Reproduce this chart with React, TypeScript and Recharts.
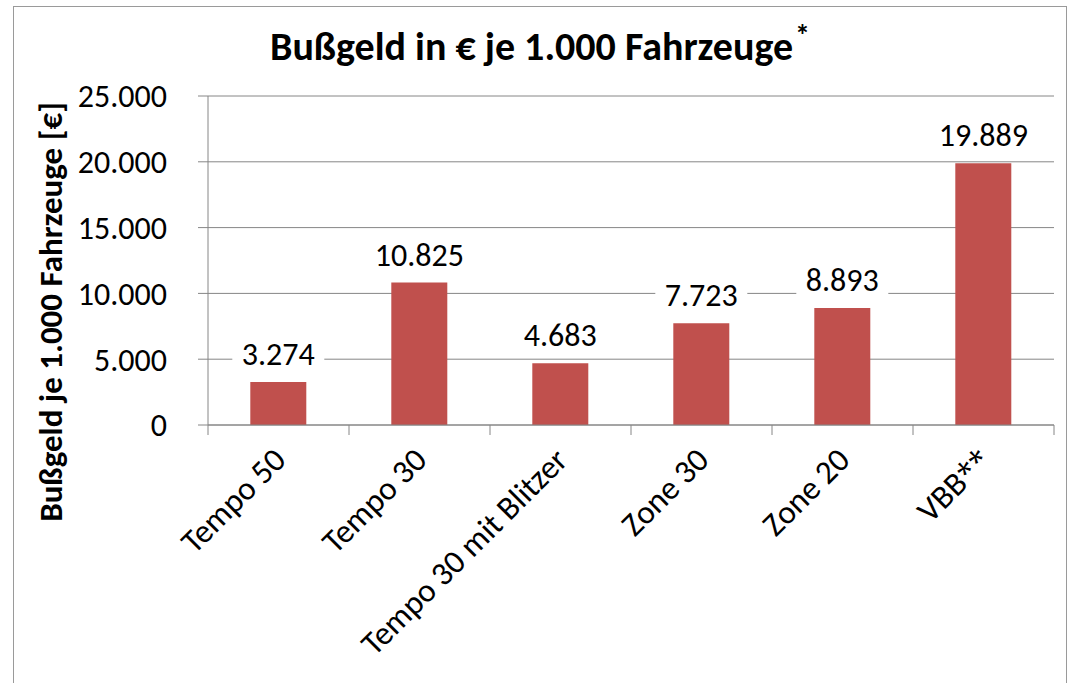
import { BarChart, Bar, XAxis, YAxis, CartesianGrid, LabelList } from "recharts";

const categories = ["Tempo 50", "Tempo 30", "Tempo 30 mit Blitzer", "Zone 30", "Zone 20", "VBB**"];
const values = [3274, 10825, 4683, 7723, 8893, 19889];
const yTicks = [0, 5000, 10000, 15000, 20000, 25000];

const data = categories.map((name, i) => ({ name, value: values[i] }));

const FONT = "Carlito, 'Open Sans', sans-serif";
const GRID = "#868686";

const fmt = (n: number) => String(n).replace(/\B(?=(\d{3})+(?!\d))/g, ".");

function CategoryTick(props: any) {
  const { x, y, payload, index } = props;
  const half = payload.offset || 0;
  const isLast = index === categories.length - 1;
  const ax = x + 9;
  const ay = y + 37;
  const label = String(payload.value);
  const stars = label.match(/\*+$/);
  const main = stars ? label.slice(0, -stars[0].length) : label;
  return (
    <g>
      <line x1={x - half} y1={y} x2={x - half} y2={y + 10} stroke={GRID} />
      {isLast && <line x1={x + half} y1={y} x2={x + half} y2={y + 10} stroke={GRID} />}
      <text
        x={ax}
        y={ay}
        textAnchor="end"
        transform={`rotate(-45, ${ax}, ${ay})`}
        fontSize={33}
        fontFamily={FONT}
        fill="#000"
      >
        {main}
        {stars && <tspan fontFamily="'Open Sans', sans-serif" fontSize={30}>{stars[0]}</tspan>}
      </text>
    </g>
  );
}

function ValueLabel(props: any) {
  const { x, y, width, value } = props;
  const cx = x + width / 2;
  const base = y - 17;
  const txt = fmt(value);
  const w = txt.length * 16 + 12;
  return (
    <g>
      <rect x={cx - w / 2} y={base - 25} width={w} height={31} fill="#fff" />
      <text x={cx} y={base} textAnchor="middle" fontSize={32} fontFamily={FONT} fill="#000">
        {txt}
      </text>
    </g>
  );
}

export default function App() {
  return (
    <div style={{ position: "absolute", left: 0, top: 0, width: 1070, height: 683, background: "#fff", overflow: "hidden" }}>
      <div
        style={{
          position: "absolute",
          left: 13,
          top: 6,
          width: 1054,
          height: 700,
          border: "1.5px solid #9a9a9a",
          boxSizing: "border-box",
        }}
      />
      <div style={{ position: "absolute", left: 0, top: 0 }}>
        <BarChart
          width={1070}
          height={683}
          data={data}
          margin={{ top: 96, right: 16, bottom: 0, left: 0 }}
          barCategoryGap="30%"
        >
          <CartesianGrid vertical={false} stroke={GRID} />
          <YAxis
            width={208}
            domain={[0, 25000]}
            ticks={yTicks}
            interval={0}
            tickFormatter={fmt}
            axisLine={{ stroke: GRID }}
            tickLine={{ stroke: GRID }}
            tickSize={10}
            tickMargin={31}
            tick={{ fontSize: 32, fontFamily: FONT, fill: "#000" }}
          />
          <XAxis
            dataKey="name"
            height={258}
            interval={0}
            axisLine={{ stroke: GRID }}
            tickLine={false}
            tickSize={0}
            tickMargin={0}
            tick={<CategoryTick />}
          />
          <Bar dataKey="value" fill="#C0504D" isAnimationActive={false}>
            <LabelList dataKey="value" content={<ValueLabel />} />
          </Bar>
        </BarChart>
      </div>
      <svg style={{ position: "absolute", left: 0, top: 0 }} width={1070} height={683}>
        <text x={540} y={60} textAnchor="middle" fontFamily={FONT} fontWeight="bold" fontSize={40} fill="#000">
          {"Bußgeld in € je 1.000 Fahrzeuge"}<tspan dx={2} dy={-15} fontSize={30}>*</tspan>
        </text>
        <text
          x={62}
          y={312}
          textAnchor="middle"
          transform="rotate(-90, 62, 312)"
          fontFamily={FONT}
          fontWeight="bold"
          fontSize={33}
          fill="#000"
        >
          Bußgeld je 1.000 Fahrzeuge [€]
        </text>
      </svg>
    </div>
  );
}
